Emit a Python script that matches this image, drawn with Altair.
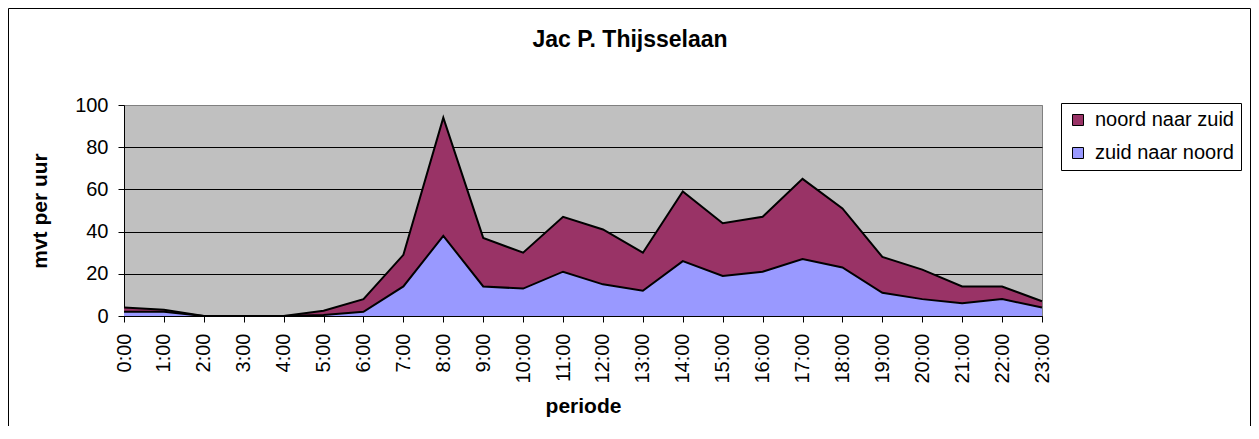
import altair as alt
import pandas as pd

periodes = ["0:00", "1:00", "2:00", "3:00", "4:00", "5:00", "6:00", "7:00",
            "8:00", "9:00", "10:00", "11:00", "12:00", "13:00", "14:00", "15:00",
            "16:00", "17:00", "18:00", "19:00", "20:00", "21:00", "22:00", "23:00"]
zuid_naar_noord = [2, 2, 0, 0, 0, 0.5, 2, 14, 38, 14, 13, 21, 15, 12, 26, 19, 21, 27, 23, 11, 8, 6, 8, 4]
noord_naar_zuid = [2, 1, 0, 0, 0, 2, 6, 15, 56, 23, 17, 26, 26, 18, 33, 25, 26, 38, 28, 17, 14, 8, 6, 3]
series_names = ["noord naar zuid", "zuid naar noord"]
series_colors = ["#993366", "#9999FF"]
y_ticks = [0, 20, 40, 60, 80, 100]

rows = []
for i, p in enumerate(periodes):
    rows.append({"periode": p, "richting": "zuid naar noord", "mvt": zuid_naar_noord[i], "volgorde": 0})
    rows.append({"periode": p, "richting": "noord naar zuid", "mvt": noord_naar_zuid[i], "volgorde": 1})
df = pd.DataFrame(rows)

FONT = "Liberation Sans"

x_enc = alt.X(
    "periode:N",
    sort=periodes,
    scale=alt.Scale(type="point", padding=0),
    axis=alt.Axis(
        title="periode",
        labelAngle=270,
        labelFontSize=20,
        labelPadding=11,
        labelOverlap=False,
        tickSize=6,
        grid=False,
        titleFontSize=21,
        titleFontWeight="bold",
        titleX=459,
        titleY=96,
        titleBaseline="alphabetic",
        titleAlign="center",
    ),
)

y_axis = alt.Axis(
    title="mvt per uur",
    values=y_ticks,
    labelFontSize=20,
    labelPadding=10,
    tickSize=6,
    grid=True,
    gridColor={"condition": {"test": "datum.value >= 100", "value": "#808080"}, "value": "black"},
    titleFontSize=21,
    titleFontWeight="bold",
    titleAngle=270,
    titleX=-78,
    titleY=105.5,
    titleBaseline="alphabetic",
    titleAlign="center",
)

base = alt.Chart(df)

area = base.mark_area(opacity=1).encode(
    x=x_enc,
    y=alt.Y("mvt:Q", stack="zero", scale=alt.Scale(domain=[0, 100], nice=False), axis=y_axis),
    color=alt.Color(
        "richting:N",
        scale=alt.Scale(domain=series_names, range=series_colors),
        legend=alt.Legend(
            title=None,
            orient="none",
            legendX=937,
            legendY=-2,
            padding=7,
            strokeColor="black",
            fillColor="white",
            labelFontSize=20,
            labelFont=FONT,
            labelColor="black",
            labelOffset=7,
            symbolType="square",
            symbolSize=121,
            symbolStrokeColor="black",
            symbolStrokeWidth=1,
            symbolOpacity=1,
            rowPadding=13,
        ),
    ),
    order=alt.Order("volgorde:Q"),
)

lines = base.mark_line(color="black", strokeWidth=2).encode(
    x=x_enc,
    y=alt.Y("mvt:Q", stack="zero", scale=alt.Scale(domain=[0, 100], nice=False), axis=y_axis),
    detail="richting:N",
)

frame = alt.Chart(pd.DataFrame({"k": [0]})).mark_rect(
    fill="transparent", stroke="black", strokeWidth=1
).encode(
    x=alt.value(-115.5), x2=alt.value(1126.5), y=alt.value(-96.5), y2=alt.value(600)
)

chart = alt.layer(frame, area, lines).properties(
    width=918,
    height=211,
    autosize=alt.AutoSizeParams(type="none"),
    padding={"left": 116, "top": 97, "right": 209, "bottom": 110},
    title=alt.TitleParams(
        "Jac P. Thijsselaan",
        font=FONT,
        fontSize=23,
        fontWeight="bold",
        color="black",
        anchor="middle",
        frame="group",
        offset=0,
        baseline="alphabetic",
        dx=47,
        dy=61.5,
    ),
).configure(
    background="white",
).configure_view(
    fill="#C0C0C0", stroke="#808080", strokeWidth=1
).configure_axis(
    labelFont=FONT, titleFont=FONT, labelColor="black", titleColor="black",
    domainColor="black", tickColor="black", domainWidth=1, tickWidth=1, gridWidth=1,
)

chart.save("out.html", embed_options={"renderer": "svg", "actions": False})
